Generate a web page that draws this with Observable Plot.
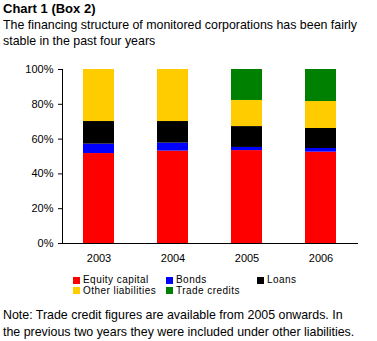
<!DOCTYPE html>
<html>
<head>
<meta charset="utf-8">
<script src="https://cdn.jsdelivr.net/npm/d3@7"></script>
<script src="https://cdn.jsdelivr.net/npm/@observablehq/plot@0.6"></script>
<style>
  html, body { margin: 0; padding: 0; background: #fff; }
  body { width: 377px; height: 341px; position: relative; overflow: hidden;
         font-family: "Liberation Sans", Arial, sans-serif; color: #000; }
  #title { position: absolute; left: 3px; top: 1px; font-weight: bold; font-size: 13px; line-height: 16px; }
  #subtitle { position: absolute; left: 3px; top: 17px; font-size: 12.4px; line-height: 16px; width: 380px; white-space: nowrap; }
  #chart { position: absolute; left: 0; top: 50px; }
  #legend { position: absolute; left: 73px; top: 275px; display: grid;
            grid-template-columns: 93px 91px 100px; font-size: 10px; line-height: 10.5px; letter-spacing: 0.45px; }
  #legend .item { display: flex; align-items: center; white-space: nowrap; }
  #legend .sw { width: 7px; height: 7px; margin-right: 3px; flex: none; }
  #note { position: absolute; left: 3px; top: 307px; font-size: 12.4px; line-height: 17px; width: 380px; white-space: nowrap; }
</style>
</head>
<body>
<div id="title">Chart 1 (Box 2)</div>
<div id="subtitle">The financing structure of monitored corporations has been fairly<br>stable in the past four years</div>
<div id="chart"></div>
<div id="legend"></div>
<div id="note">Note: Trade credit figures are available from 2005 onwards. In<br>the previous two years they were included under other liabilities.</div>
<script>
const years = ["2003", "2004", "2005", "2006"];
const seriesNames = ["Equity capital", "Bonds", "Loans", "Other liabilities", "Trade credits"];
const seriesColors = ["#ff0000", "#0000ff", "#000000", "#ffcc00", "#008000"];
const equityCapital = [51.7, 53.1, 53.4, 52.5];
const bonds = [5.4, 4.6, 1.8, 2.1];
const loans = [13.0, 12.4, 12.0, 11.5];
const otherLiabilities = [29.9, 29.9, 15.0, 15.5];
const tradeCredits = [0, 0, 17.8, 18.4];
const yTicks = [0, 20, 40, 60, 80, 100];

const seriesValues = [equityCapital, bonds, loans, otherLiabilities, tradeCredits];
const data = [];
seriesNames.forEach((s, i) => {
  years.forEach((y, j) => data.push({year: y, series: s, value: seriesValues[i][j]}));
});

const chart = Plot.plot({
  width: 377,
  height: 225,
  marginTop: 19,
  marginBottom: 32,
  marginLeft: 62,
  marginRight: 19,
  style: {fontFamily: "'Liberation Sans', Arial, sans-serif", fontSize: "11px", color: "#000", background: "#fff"},
  x: {domain: years, paddingInner: 0.58, paddingOuter: 0.29, label: null},
  y: {domain: [0, 100], label: null},
  color: {domain: seriesNames, range: seriesColors},
  marks: [
    Plot.barY(data, Plot.stackY({order: seriesNames}, {x: "year", y: "value", z: "series", fill: "series"})),
    Plot.axisY({ticks: yTicks, tickFormat: d => d + "%", tickSize: 4, tickPadding: 5, label: null, fontSize: 11}),
    Plot.axisX({tickSize: 0, tickPadding: 11, label: null, fontSize: 11}),
    Plot.frame({anchor: "left", stroke: "#000"}),
    Plot.ruleY([0], {stroke: "#000"})
  ]
});
document.getElementById("chart").appendChild(chart);

const legend = document.getElementById("legend");
seriesNames.forEach((s, i) => {
  const item = document.createElement("div");
  item.className = "item";
  const sw = document.createElement("span");
  sw.className = "sw";
  sw.style.background = seriesColors[i];
  item.appendChild(sw);
  item.appendChild(document.createTextNode(s));
  legend.appendChild(item);
});
</script>
</body>
</html>
